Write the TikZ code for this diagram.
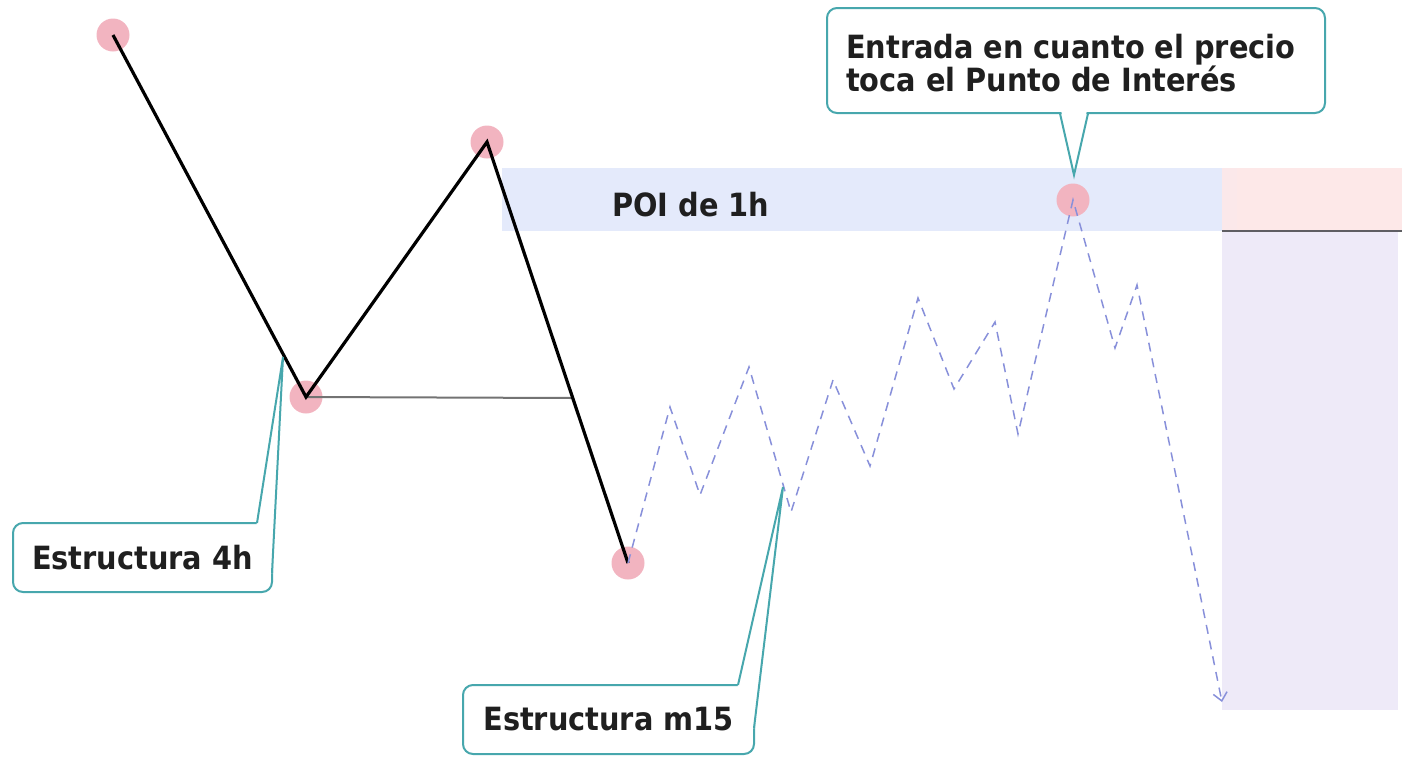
\documentclass[tikz,border=0pt]{standalone}
\usepackage{fontspec}
\setmainfont{DejaVu Sans Condensed}
\usetikzlibrary{arrows.meta}
\definecolor{dotpink}{HTML}{F2B4C0}
\definecolor{poiblue}{HTML}{E4EAFB}
\definecolor{zonepink}{HTML}{FDE8E8}
\definecolor{zonelav}{HTML}{EEEAF8}
\definecolor{teal}{HTML}{47A7AD}
\definecolor{dashblue}{HTML}{8890DA}
\tikzset{
  dot/.style={circle, fill=dotpink, minimum size=33pt, inner sep=0pt},
  swing/.style={line width=3.2pt, black, line join=miter},
  lbl/.style={font=\fontsize{32}{33}\selectfont\bfseries, text=black!88, inner sep=0pt},
  callbox/.style={draw=teal, line width=2pt, fill=white, rounded corners=10pt, inner sep=0pt},
  pointer/.style={draw=teal, line width=2pt, line join=miter},
  m15path/.style={dashblue, line width=1.5pt, dash pattern=on 9pt off 7pt}
}
\begin{document}
\begin{tikzpicture}[x=1pt,y=-1pt]
\useasboundingbox (0,0) rectangle (1402,756);
% zones
\fill[poiblue] (502,168) rectangle (1222,231);
\fill[zonepink] (1222,168) rectangle (1402,230);
\fill[zonepink!85!zonelav] (1222,168) rectangle (1237,230);
\fill[zonelav] (1222,232) rectangle (1398,710);
\draw[line width=2pt, black!60!zonelav] (1222,231) -- (1402,231);
\node[lbl, anchor=west] (poi) at (612,205) {POI de 1h};
% swing points
\node[dot] (p1) at (113,35) {};
\node[dot] (p2) at (306,397) {};
\node[dot] (p3) at (487,142) {};
\node[dot] (p4) at (628,563) {};
\node[dot] (p5) at (1073,200) {};
\coordinate (g) at (572.3,398);
\draw[line width=2pt, black!55] (p2.center) -- (g);
\draw[swing] (p1.center) -- (p2.center) -- (p3.center) -- (p4.center);
% m15 path
\coordinate (z1) at (670,407);
\coordinate (z2) at (700,495);
\coordinate (z3) at (749,367);
\coordinate (z4) at (791,512);
\coordinate (z5) at (833,380);
\coordinate (z6) at (870,466);
\coordinate (z7) at (918,298);
\coordinate (z8) at (954,389);
\coordinate (z9) at (995,322);
\coordinate (z10) at (1018,434);
\coordinate (z11) at (1115,348);
\coordinate (z12) at (1137,285);
\coordinate (zend) at (1222,702);
\draw[m15path, -{Straight Barb[length=8pt,width=14pt,line width=1.5pt]}]
  (p4.center) -- (z1) -- (z2) -- (z3) -- (z4) -- (z5) -- (z6) -- (z7) -- (z8)
  -- (z9) -- (z10) -- (p5.center) -- (z11) -- (z12) -- (zend);
% callout: entrada
\node[callbox, minimum width=498pt, minimum height=105pt] (entrada) at (1076,60.5) {};
\coordinate (etip) at (1074,175);
\fill[white] (1061,110) -- (etip) -- (1087,110) -- cycle;
\draw[pointer] (1060,113.5) -- (etip) -- (1088,113.5);
\node[lbl, anchor=west, align=left] (etxt) at (846,63) {Entrada en cuanto el precio\\toca el Punto de Interés};
% callout: estructura 4h
\node[callbox, minimum width=259pt, minimum height=69pt] (e4h) at (142.5,557.5) {};
\node[lbl] (e4htxt) at (e4h) {Estructura 4h};
\coordinate (t4h) at (283,357);
\fill[white] (256.5,525) -- (t4h) -- (272,574) -- cycle;
\draw[pointer] (257,523) -- (t4h) -- (272,573);
% callout: estructura m15
\node[callbox, minimum width=291pt, minimum height=69pt] (em15) at (608.5,719.5) {};
\node[lbl] (em15txt) at (em15) {Estructura m15};
\coordinate (tm15) at (783,487);
\fill[white] (737.5,687) -- (tm15) -- (754,729) -- cycle;
\draw[pointer] (738,685) -- (tm15) -- (754,728);
\end{tikzpicture}
\end{document}
